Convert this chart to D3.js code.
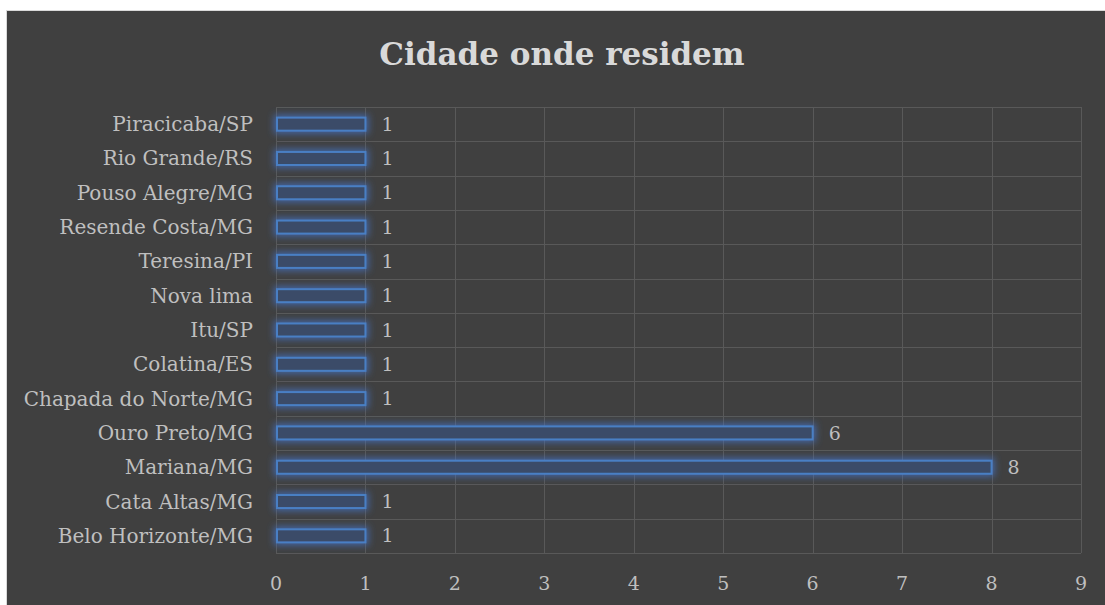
<!DOCTYPE html>
<meta charset="utf-8">
<style>
body { margin: 0; background: #fff; }
svg text { font-family: "DejaVu Serif", "Liberation Serif", serif; }
</style>
<svg width="1105" height="605"></svg>
<script src="https://cdn.jsdelivr.net/npm/d3@7"></script>
<script>

// data, top to bottom
var cities = ["Piracicaba/SP", "Rio Grande/RS", "Pouso Alegre/MG", "Resende Costa/MG",
  "Teresina/PI", "Nova lima", "Itu/SP", "Colatina/ES", "Chapada do Norte/MG",
  "Ouro Preto/MG", "Mariana/MG", "Cata Altas/MG", "Belo Horizonte/MG"];
var counts = [1, 1, 1, 1, 1, 1, 1, 1, 1, 6, 8, 1, 1];
var xTicks = [0, 1, 2, 3, 4, 5, 6, 7, 8, 9];
var title = "Cidade onde residem";

var svg = d3.select("svg"),
    width = +svg.attr("width"),
    height = +svg.attr("height");

var margin = {top: 107, right: 24, bottom: 52, left: 276};

// chart frame
svg.append("rect")
    .attr("x", 6.5).attr("y", 10.5)
    .attr("width", width).attr("height", height)
    .attr("fill", "#404040")
    .attr("stroke", "#d9d9d9");

// soft blue glow round the bars
var defs = svg.append("defs");
var glow = defs.append("filter").attr("id", "glow")
    .attr("x", "-20%").attr("y", "-150%").attr("width", "140%").attr("height", "400%");
glow.append("feMorphology").attr("in", "SourceAlpha").attr("operator", "dilate").attr("radius", 1.5).attr("result", "d");
glow.append("feGaussianBlur").attr("in", "d").attr("stdDeviation", 3.5).attr("result", "b");
glow.append("feFlood").attr("flood-color", "#4472c4").attr("flood-opacity", 0.75);
glow.append("feComposite").attr("in2", "b").attr("operator", "in").attr("result", "g");
var merge = glow.append("feMerge");
merge.append("feMergeNode").attr("in", "g");
merge.append("feMergeNode").attr("in", "SourceGraphic");

var x = d3.scaleLinear().domain([0, 9]).range([margin.left, 1081]);
var y = d3.scaleBand().domain(cities).range([margin.top, 553]).paddingInner(0.62).paddingOuter(0.31);
var band = d3.scaleBand().domain(cities).range([margin.top, 553]);

// gridlines
var grid = svg.append("g").attr("stroke", "#595959").attr("stroke-width", 1);
grid.selectAll("line.v").data(xTicks).enter().append("line")
    .attr("x1", function(d) { return Math.round(x(d)) + 0.5; })
    .attr("x2", function(d) { return Math.round(x(d)) + 0.5; })
    .attr("y1", margin.top).attr("y2", 553);
grid.selectAll("line.h").data(cities).enter().append("line")
    .attr("x1", x(0)).attr("x2", x(9))
    .attr("y1", function(d) { return Math.round(band(d)) + 0.5; })
    .attr("y2", function(d) { return Math.round(band(d)) + 0.5; });
grid.append("line").attr("x1", x(0)).attr("x2", x(9)).attr("y1", 553.5).attr("y2", 553.5);

// bars
svg.append("g").selectAll("rect").data(cities).enter().append("rect")
    .attr("x", x(0) + 1)
    .attr("y", function(d) { return y(d); })
    .attr("width", function(d, i) { return x(counts[i]) - x(0) - 1; })
    .attr("height", y.bandwidth())
    .attr("fill", "#3a4c68")
    .attr("stroke", "#4a7fc4")
    .attr("stroke-width", 2)
    .attr("filter", "url(#glow)");

// value labels
svg.append("g").selectAll("text").data(cities).enter().append("text")
    .attr("x", function(d, i) { return x(counts[i]) + 16; })
    .attr("y", function(d) { return band(d) + band.bandwidth() / 2; })
    .attr("dy", "0.35em")
    .attr("fill", "#bfbfbf")
    .attr("font-size", 19)
    .text(function(d, i) { return counts[i]; });

// category labels
svg.append("g").selectAll("text").data(cities).enter().append("text")
    .attr("x", 253)
    .attr("y", function(d) { return band(d) + band.bandwidth() / 2; })
    .attr("dy", "0.35em")
    .attr("text-anchor", "end")
    .attr("fill", "#bfbfbf")
    .attr("font-size", 20)
    .text(function(d) { return d; });

// x tick labels
svg.append("g").selectAll("text").data(xTicks).enter().append("text")
    .attr("x", function(d) { return x(d); })
    .attr("y", 583)
    .attr("dy", "0.35em")
    .attr("text-anchor", "middle")
    .attr("fill", "#bfbfbf")
    .attr("font-size", 19)
    .text(function(d) { return d; });

svg.append("text")
    .attr("x", 562).attr("y", 65)
    .attr("text-anchor", "middle")
    .attr("fill", "#d9d9d9")
    .attr("font-size", 31)
    .attr("font-weight", "bold")
    .text(title);

</script>
